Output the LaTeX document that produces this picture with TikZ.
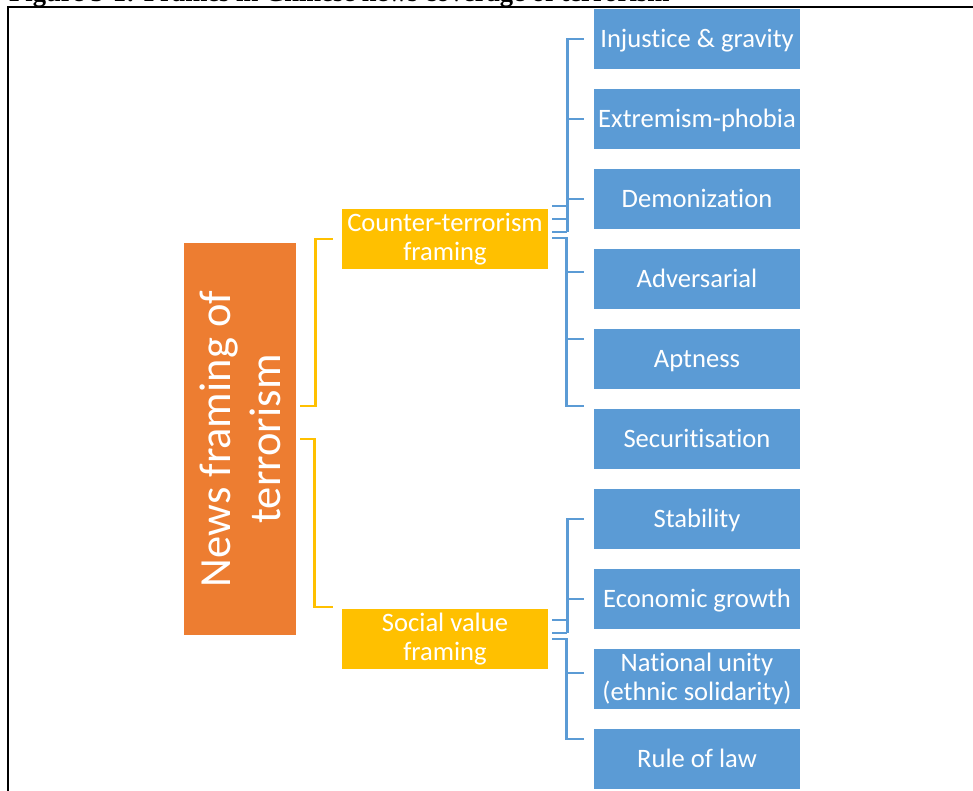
\documentclass[tikz,border=0pt]{standalone}
\usepackage{fontspec}
\setmainfont{Carlito}[RawFeature={-liga}]
\newfontfamily\captionserif{Liberation Serif}
\usetikzlibrary{calc}
\definecolor{rootorange}{HTML}{ED7D31}
\definecolor{framegold}{HTML}{FFC000}
\definecolor{itemblue}{HTML}{5B9BD5}

\begin{document}
\begin{tikzpicture}[x=1pt,y=-1pt,
  rootbox/.style={fill=rootorange, text=white, minimum width=392pt, minimum height=112pt,
    rotate=90, align=center, inner sep=0pt, font=\fontsize{44.5}{50}\selectfont},
  framebox/.style={fill=framegold, text=white, minimum width=206pt, minimum height=60pt,
    align=center, inner sep=0pt, font=\fontsize{26.6}{28.5}\selectfont},
  itembox/.style={fill=itemblue, text=white, minimum width=206pt, minimum height=60pt,
    align=center, inner sep=0pt, font=\fontsize{26.6}{28.5}\selectfont},
  oneline/.style={text height=23.1pt, text depth=6pt},
  goldline/.style={draw=framegold, line width=2.7pt},
  blueline/.style={draw=itemblue, line width=2.7pt},
]
\useasboundingbox (0,0) rectangle (973,790);
\clip (0,0) rectangle (973,790);

% figure caption and frame
\node[anchor=base west, inner sep=0pt,
      font=\captionserif\bfseries\fontsize{26.6}{30}\selectfont] (caption) at (9,1.5)
  {Figure 5-1: Frames in Chinese news coverage of terrorism};
\draw[line width=1.4pt] (8,800) -- (8,7) -- (985,7);

% root and the two frame groups
\node[rootbox] (root) at (240,439) {News framing of\\terrorism};
\node[framebox] (ct) at (445,239) {Counter-terrorism\\framing};
\node[framebox] (sv) at (445,639) {Social value\\framing};

% frame items
\node[itembox, oneline] (i1)  at (697,39)  {Injustice \& gravity};
\node[itembox, oneline] (i2)  at (697,119) {Extremism-phobia};
\node[itembox, oneline] (i3)  at (697,199) {Demonization};
\node[itembox, oneline] (i4)  at (697,279) {Adversarial};
\node[itembox, oneline] (i5)  at (697,359) {Aptness};
\node[itembox, oneline] (i6)  at (697,439) {Securitisation};
\node[itembox, oneline] (i7)  at (697,519) {Stability};
\node[itembox, oneline] (i8)  at (697,599) {Economic growth};
\node[itembox] (i9)  at (697,679) {National unity\\(ethnic solidarity)};
\node[itembox, oneline] (i10) at (697,759) {Rule of law};

% brackets from the root to the frame groups
\draw[goldline] ($(ct.west)+(-9,0)$) -| ($(root.south)+(19,-33)$) -- ($(root.south)+(4,-33)$);
\draw[goldline] ($(root.south)+(4,0)$) -| ($(sv.west)+(-27,-32)$) -- ($(sv.west)+(-9,-32)$);

% counter-terrorism brackets
\draw[blueline] ($(ct.east)+(4,-33)$) -- ++(15,0);
\draw[blueline] ($(ct.east)+(4,-20)$) -- ++(15,0);
\draw[blueline] ($(ct.east)+(4,-7)$) -- ++(15,0);
\draw[blueline] ($(i1.west)+(-10,0)$) -| ($(ct.east)+(19,-7)$);
\draw[blueline] ($(i2.west)+(-27,0)$) -- ($(i2.west)+(-10,0)$);
\draw[blueline] ($(i3.west)+(-27,0)$) -- ($(i3.west)+(-10,0)$);
\draw[blueline] ($(ct.east)+(4,-1)$) -| ($(i6.west)+(-27,-33)$) -- ($(i6.west)+(-10,-33)$);
\draw[blueline] ($(i4.west)+(-27,-7)$) -- ($(i4.west)+(-10,-7)$);
\draw[blueline] ($(i5.west)+(-27,-20)$) -- ($(i5.west)+(-10,-20)$);

% social value brackets
\draw[blueline] ($(sv.east)+(4,-19)$) -- ++(15,0);
\draw[blueline] ($(sv.east)+(4,-6)$) -- ++(15,0);
\draw[blueline] ($(i7.west)+(-10,0)$) -| ($(sv.east)+(19,-6)$);
\draw[blueline] ($(i8.west)+(-27,0)$) -- ($(i8.west)+(-10,0)$);
\draw[blueline] ($(sv.east)+(4,0)$) -| ($(i10.west)+(-27,-20)$) -- ($(i10.west)+(-10,-20)$);
\draw[blueline] ($(i9.west)+(-27,-6)$) -- ($(i9.west)+(-10,-6)$);
\end{tikzpicture}
\end{document}
